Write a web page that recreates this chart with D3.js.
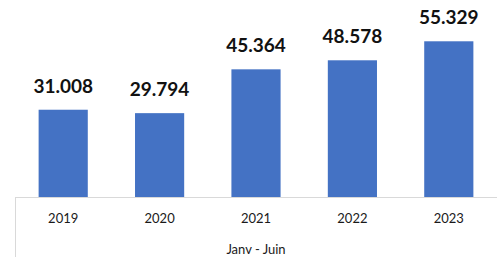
<!DOCTYPE html>
<html>
<head>
<meta charset="utf-8">
<script src="https://cdn.jsdelivr.net/npm/d3@7"></script>
<style>
    body { margin: 0; background: #fff; }
    text { font-family: Lato, "Open Sans", sans-serif; }
</style>
</head>
<body>
<div id="chart"></div>
<script>
// data
var years = ["2019", "2020", "2021", "2022", "2023"];
var values = [31.008, 29.794, 45.364, 48.578, 55.329];
var valueLabels = ["31.008", "29.794", "45.364", "48.578", "55.329"];
var groupLabel = "Janv - Juin";

var width = 497, height = 257;
var baseY = 197;

var svg = d3.select("#chart")
    .append("svg")
    .attr("width", width)
    .attr("height", height);

var x = d3.scaleBand()
    .domain(years)
    .range([15, 497])
    .paddingInner(0.49)
    .paddingOuter(0.245);

var y = d3.scaleLinear()
    .domain([0, 70])
    .range([baseY, 0]);

// bars
svg.selectAll("rect.bar")
    .data(values)
    .enter()
    .append("rect")
    .attr("class", "bar")
    .attr("x", (d, i) => x(years[i]))
    .attr("y", d => y(d))
    .attr("width", x.bandwidth())
    .attr("height", d => baseY - y(d))
    .style("fill", "#4472c4");

// value labels above bars
svg.selectAll("text.val")
    .data(values)
    .enter()
    .append("text")
    .attr("class", "val")
    .attr("x", (d, i) => x(years[i]) + x.bandwidth() / 2)
    .attr("y", d => y(d) - 17)
    .attr("text-anchor", "middle")
    .style("font-size", "19px")
    .style("font-weight", "bold")
    .style("fill", "#111")
    .text((d, i) => valueLabels[i]);

// axis line and the table-like border below it
svg.append("line")
    .attr("x1", 15).attr("x2", 497)
    .attr("y1", baseY + 0.5).attr("y2", baseY + 0.5)
    .style("stroke", "#d9d9d9").style("stroke-width", 1);
svg.append("line")
    .attr("x1", 15.5).attr("x2", 15.5)
    .attr("y1", baseY).attr("y2", height)
    .style("stroke", "#d9d9d9").style("stroke-width", 1);

// year labels
var xAxis = svg.append("g")
    .attr("transform", "translate(0," + baseY + ")")
    .call(d3.axisBottom(x).tickSize(0).tickPadding(0));
xAxis.select(".domain").remove();
xAxis.selectAll("text")
    .attr("dy", null)
    .attr("y", 26)
    .style("font-size", "13px")
    .style("fill", "#1a1a1a");

// group label
svg.append("text")
    .attr("x", (15 + 497) / 2)
    .attr("y", 254)
    .attr("text-anchor", "middle")
    .style("font-size", "13px")
    .style("fill", "#1a1a1a")
    .text(groupLabel);
</script>
</body>
</html>
